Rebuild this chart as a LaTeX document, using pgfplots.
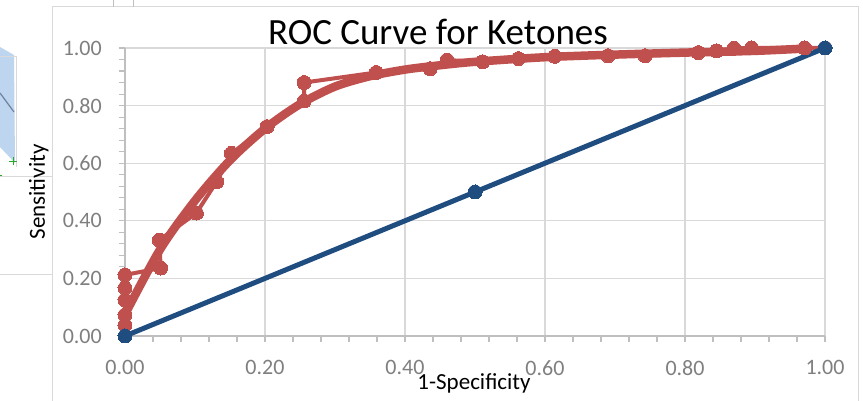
\documentclass[border=0pt]{standalone}
\usepackage{pgfplots}
\pgfplotsset{compat=1.18}
\usepackage{fontspec}
\setmainfont{Carlito}
\definecolor{rocred}{RGB}{192,80,77}
\definecolor{rocblue}{RGB}{31,77,128}
\definecolor{gridgray}{RGB}{217,217,217}
\definecolor{axisgray}{RGB}{191,191,191}
\definecolor{labelgray}{RGB}{127,127,127}
\definecolor{framegray}{RGB}{217,217,217}
\definecolor{ghostblue}{RGB}{189,213,238}
\definecolor{ghostline}{RGB}{110,130,160}
\definecolor{ghostgreen}{RGB}{40,170,40}
\begin{document}
\begin{tikzpicture}[x=1pt,y=1pt]
\useasboundingbox (0,0) rectangle (863,401);
% fragments of the neighbouring chart at the left edge
\fill[ghostblue] (0,354) -- (14,346) -- (15,238) -- (0,254) -- cycle;
\draw[ghostline, line width=1.2pt] (0,308) -- (14,289);
\draw[framegray, line width=1pt] (0,344) -- (16,344) -- (16,234);
\draw[framegray, line width=1pt] (0,224) -- (52,224);
\draw[framegray, line width=1pt] (0,126) -- (52,126);
\draw[ghostgreen, line width=0.8pt] (9,240) -- (17,240) (13,236) -- (13,244);
\draw[ghostgreen, line width=0.8pt] (0,226) -- (2,226);
% chart frame
\draw[framegray, line width=1pt] (52,0) -- (52,394) -- (858,394) -- (858,0);
\draw[axisgray, line width=1pt] (113,401) -- (113,394) (133,401) -- (133,394);
\begin{axis}[
  at={(125pt,65pt)}, anchor=south west,
  scale only axis, width=700pt, height=288pt,
  xmin=0, xmax=1, ymin=0, ymax=1,
  xtick={0,0.2,0.4,0.6,0.8,1}, ytick={0,0.2,0.4,0.6,0.8,1},
  minor tick num=4,
  axis x line=bottom, axis y line=left,
  axis line style={-, draw=axisgray, line width=1.3pt},
  tick align=outside,
  major tick length=6pt, minor tick length=6pt,
  every tick/.style={draw=axisgray, line width=1.1pt},
  grid=major,
  major grid style={draw=gridgray, line width=1.3pt},
  /pgf/number format/.cd, fixed, fixed zerofill, precision=2, assume math mode=true,
  /pgfplots/.cd,
  tick label style={font=\fontsize{22}{24}\selectfont, text=labelgray, inner sep=0pt},
  xticklabel style={anchor=north, yshift=-18pt},
  yticklabel style={anchor=east, xshift=-17pt},
  xlabel={1-Specificity},
  ylabel={Sensitivity},
  every axis x label/.style={at={(axis description cs:0.4986,-0.165)}, anchor=center, font=\fontsize{23}{26}\selectfont},
  every axis y label/.style={at={(axis description cs:-0.123,0.5)}, rotate=90, anchor=center, font=\fontsize{23}{26}\selectfont},
  title={ROC Curve for Ketones},
  every axis title/.style={at={(axis description cs:0.447,1)}, anchor=base, yshift=3pt, font=\fontsize{37}{40}\selectfont},
  clip=false,
]
% smoothed curve
\addplot[rocred, line width=8.5pt, smooth, tension=0.5, line cap=round] coordinates {
 (0,0.075) (0.05,0.30) (0.10,0.47) (0.15,0.61) (0.20,0.72)
 (0.25,0.805) (0.30,0.866) (0.35,0.902) (0.40,0.925) (0.45,0.940)
 (0.50,0.952) (0.60,0.968) (0.70,0.977) (0.80,0.984) (0.90,0.990) (0.971,0.998)
};
% observed ROC points
\addplot[rocred, line width=4pt, mark=*, mark size=7pt, mark options={fill=rocred, draw=rocred, line width=0pt}] coordinates {
 (0,0.038) (0,0.073) (0,0.125) (0,0.167) (0,0.212)
 (0.051,0.236) (0.049,0.333) (0.102,0.427) (0.131,0.536) (0.152,0.634)
 (0.203,0.727) (0.256,0.816) (0.256,0.880) (0.359,0.915) (0.436,0.928)
 (0.460,0.958) (0.511,0.952) (0.562,0.963) (0.614,0.971) (0.690,0.973)
 (0.743,0.973) (0.819,0.984) (0.845,0.990) (0.870,0.999) (0.895,1.000)
 (0.971,1.000) (1,1)
};
% reference diagonal
\addplot[rocblue, line width=5pt, mark=*, mark size=7pt, mark options={fill=rocblue, draw=rocblue, line width=0pt}] coordinates {
 (0,0) (0.5,0.5) (1,1)
};
\end{axis}
\end{tikzpicture}
\end{document}
